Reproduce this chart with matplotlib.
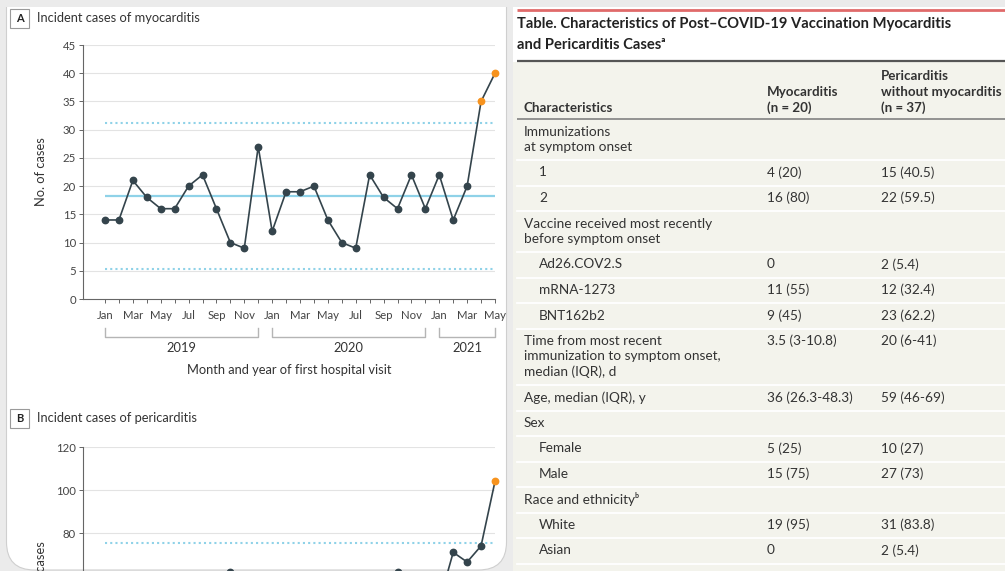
import numpy as np
import matplotlib
matplotlib.use("Agg")
import matplotlib.pyplot as plt
from matplotlib.patches import Rectangle, FancyBboxPatch

plt.rcParams['font.family'] = ['Lato', 'DejaVu Sans']

# ---- data ----
month_names = ["Jan", "Feb", "Mar", "Apr", "May", "Jun", "Jul", "Aug", "Sep", "Oct", "Nov", "Dec"]
months = month_names * 2 + month_names[:5]
years = ["2019", "2020", "2021"]
year_span = [(0, 11), (12, 23), (24, 28)]

myo_cases = [14, 14, 21, 18, 16, 16, 20, 22, 16, 10, 9, 27,
             12, 19, 19, 20, 14, 10, 9, 22, 18, 16, 22, 16,
             22, 14, 20, 35, 40]
myo_mean, myo_upper, myo_lower = 18.3, 31.1, 5.4
myo_flagged = [27, 28]

# most of panel B is cut off in the screenshot, lower values are estimates
peri_cases = [60, 52, 55, 48, 50, 45, 53, 47, 55, 62, 50, 44,
              60, 46, 42, 38, 40, 44, 50, 48, 55, 62, 52, 45,
              48, 71, 66.5, 74, 104]
peri_mean, peri_upper, peri_lower = 50.5, 75.3, 25.7
peri_flagged = [28]

tbl_title = ["Table. Characteristics of Post\u2013COVID-19 Vaccination Myocarditis",
             "and Pericarditis Cases\u1d43"]
tbl_head = [["Characteristics"], ["Myocarditis", "(n = 20)"],
            ["Pericarditis", "without myocarditis", "(n = 37)"]]
tbl_labels = [["Immunizations", "at symptom onset"], ["1"], ["2"],
              ["Vaccine received most recently", "before symptom onset"],
              ["Ad26.COV2.S"], ["mRNA-1273"], ["BNT162b2"],
              ["Time from most recent", "immunization to symptom onset,", "median (IQR), d"],
              ["Age, median (IQR), y"], ["Sex"], ["Female"], ["Male"],
              ["Race and ethnicity\u1d47"], ["White"], ["Asian"]]
tbl_myo = ["", "4 (20)", "16 (80)", "", "0", "11 (55)", "9 (45)", "3.5 (3-10.8)",
           "36 (26.3-48.3)", "", "5 (25)", "15 (75)", "", "19 (95)", "0"]
tbl_peri = ["", "15 (40.5)", "22 (59.5)", "", "2 (5.4)", "12 (32.4)", "23 (62.2)", "20 (6-41)",
            "59 (46-69)", "", "10 (27)", "27 (73)", "", "31 (83.8)", "2 (5.4)"]
tbl_indent = [0, 1, 1, 0, 1, 1, 1, 0, 0, 0, 1, 1, 0, 1, 1]

W, H = 1005, 571
LINE = '#34444c'
ORANGE = '#f7931e'
BLUE = '#8fd2e8'
GRID = '#e3e3e3'
TXT = '#333333'
FS = 9.3

fig = plt.figure(figsize=(W / 100, H / 100), dpi=100)
fig.patch.set_facecolor('#ebebeb')

# background layer in pixel units
bg = fig.add_axes([0, 0, 1, 1])
bg.set_xlim(0, W)
bg.set_ylim(H, 0)
bg.axis('off')
bg.set_zorder(-5)

bg.add_patch(FancyBboxPatch((6.5, -40), 500, 610, boxstyle="round,pad=0,rounding_size=28",
                            fc='white', ec='#cfcfcf', lw=0.8))
bg.add_patch(Rectangle((0, 0), W, 7, fc='#ebebeb', ec='none', zorder=3))
bg.add_patch(Rectangle((513, 7), W - 513, 56, fc='white', ec='none'))
bg.add_patch(Rectangle((513, 62), W - 513, H, fc='#f3f3ec', ec='none'))
bg.plot([517, W], [10, 10], color='#e06a6a', lw=2, solid_capstyle='butt')

# panel labels
for lab, title, y in [("A", "Incident cases of myocarditis", 18),
                      ("B", "Incident cases of pericarditis", 418)]:
    bg.add_patch(Rectangle((10, y - 9.5), 19, 19, fc='white', ec='#9a9a9a', lw=0.8))
    bg.text(19.5, y, lab, ha='center', va='center', fontsize=8, fontweight='bold', color='#222')
    bg.text(37, y, title, ha='left', va='center', fontsize=FS, color=TXT)


def chart(ax, cases, mean, upper, lower, flagged, ymax, ystep, xlabels=True):
    x = np.arange(len(cases))
    ax.set_facecolor('none')
    ax.set_xlim(-1.58, len(cases) - 1)
    ax.set_ylim(0, ymax)
    for g in np.arange(ystep, ymax + 1, ystep):
        ax.axhline(g, color=GRID, lw=0.8, zorder=0)
    ax.hlines(mean, 0, len(cases) - 1, color=BLUE, lw=1.6, zorder=1)
    ax.hlines([upper, lower], 0, len(cases) - 1, color=BLUE, lw=1.5,
              linestyles=(0, (1, 1.5)), zorder=1)
    ax.plot(x, cases, color=LINE, lw=1.2, zorder=2, clip_on=False)
    normal = [i for i in x if i not in flagged]
    ax.plot(normal, [cases[i] for i in normal], 'o', color=LINE, ms=4.6, zorder=3)
    ax.plot(flagged, [cases[i] for i in flagged], 'o', color=ORANGE, ms=4.6, zorder=4,
            clip_on=False)
    for s in ['top', 'right']:
        ax.spines[s].set_visible(False)
    for s in ['left', 'bottom']:
        ax.spines[s].set_color('#666666')
        ax.spines[s].set_linewidth(0.8)
    ax.set_yticks(np.arange(0, ymax + 1, ystep))
    ax.set_xticks(x)
    if xlabels:
        ax.set_xticklabels([m if i % 2 == 0 else "" for i, m in enumerate(months)])
    else:
        ax.set_xticklabels([])
    ax.tick_params(axis='both', colors='#666666', labelcolor='#444444', labelsize=8.2,
                   length=3, width=0.7)
    ax.tick_params(axis='x', pad=5)
    ax.tick_params(axis='y', pad=2)
    ax.set_ylabel("No. of cases", fontsize=FS, color=TXT)
    ax.yaxis.set_label_coords(-36 / 412, 0.5)


axA = fig.add_axes([83 / W, 1 - 299 / H, 412 / W, 254 / H])
chart(axA, myo_cases, myo_mean, myo_upper, myo_lower, myo_flagged, 45, 5)

# year brackets under panel A
tr = axA.get_xaxis_transform()
for yr, (a, b) in zip(years, year_span):
    axA.plot([a, a, b, b], [-0.114, -0.150, -0.150, -0.114], color='#b5b5b5', lw=1,
             transform=tr, clip_on=False)
    axA.text((a + b) / 2, -0.193, yr, transform=tr, ha='center', va='center',
             fontsize=FS, color=TXT)
axA.text(0.5, -0.28, "Month and year of first hospital visit", transform=axA.transAxes,
         ha='center', va='center', fontsize=FS, color=TXT)

axB = fig.add_axes([83 / W, 1 - 705 / H, 412 / W, 258 / H])
chart(axB, peri_cases, peri_mean, peri_upper, peri_lower, peri_flagged, 120, 20, xlabels=False)

# ---- table ----
bg.text(517, 24, tbl_title[0], ha='left', va='center', fontsize=10.6, fontweight='bold', color='#222')
bg.text(517, 45, tbl_title[1], ha='left', va='center', fontsize=10.6, fontweight='bold', color='#222')
bg.plot([517, W], [61, 61], color='#555555', lw=1.6, solid_capstyle='butt')
bg.plot([517, W], [119, 119], color='#8a8a8a', lw=1.3, solid_capstyle='butt')

col_x = [524, 767, 881]
for cx, lines in zip(col_x, tbl_head):
    for k, t in enumerate(lines):
        yy = 108 - 16 * (len(lines) - 1 - k)
        bg.text(cx, yy, t, ha='left', va='center', fontsize=9.6, fontweight='bold', color='#333')

top = 119
for lab, m, p, ind in zip(tbl_labels, tbl_myo, tbl_peri, tbl_indent):
    n = len(lab)
    for k, t in enumerate(lab):
        bg.text(col_x[0] + 15 * ind, top + 12.5 + 15.5 * k, t, ha='left', va='center',
                fontsize=9.8, color='#333')
    bg.text(col_x[1], top + 12.5, m, ha='left', va='center', fontsize=9.8, color='#333')
    bg.text(col_x[2], top + 12.5, p, ha='left', va='center', fontsize=9.8, color='#333')
    top += 10 + 15.5 * n
    bg.plot([517, W], [top, top], color='white', lw=1.3)

fig.savefig("out.png", dpi=100, facecolor=fig.get_facecolor())
